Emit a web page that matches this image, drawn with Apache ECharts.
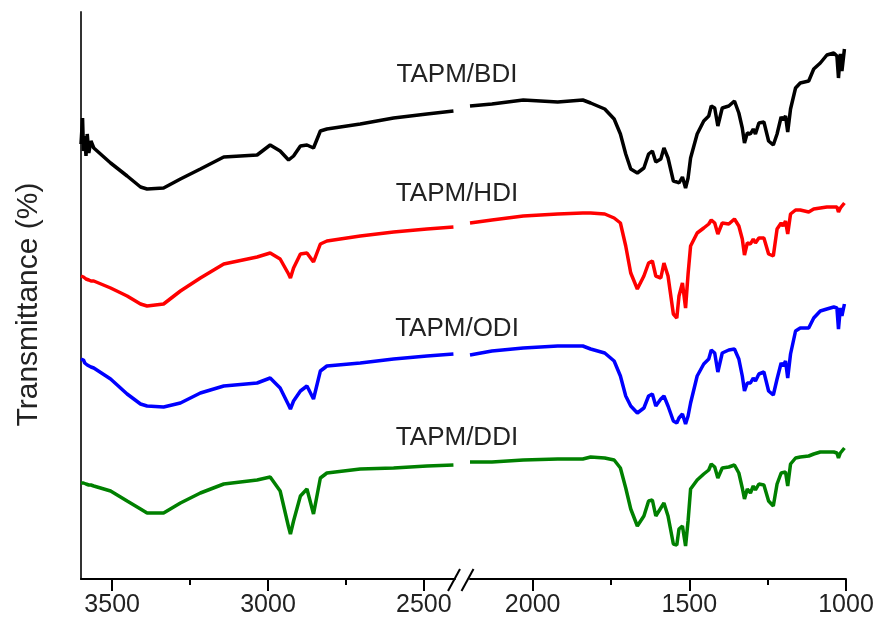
<!DOCTYPE html>
<html><head><meta charset="utf-8">
<script src="https://cdn.jsdelivr.net/npm/echarts@6/dist/echarts.min.js"></script>
<style>html,body{margin:0;padding:0;background:#fff}#c{width:877px;height:624px}</style>
</head><body><div id="c"></div>
<script>
// ---- Data (wavenumber, cm-1) ----
const leftWn = [3600,3595,3592,3588,3584,3580,3575,3568,3559,3505,3452,3409,3388,3335,3281,3217,3142,3035,2993,2961,2934,2928,2918,2896,2875,2854,2832,2811,2704,2597,2490,2405];
const rightWn = [2200,2130,2030,1920,1840,1815,1770,1740,1720,1703,1687,1666,1645,1630,1618,1607,1591,1581,1568,1551,1540,1533,1522,1512,1504,1496,1475,1454,1438,1430,1419,1409,1395,1374,1356,1342,1331,1324,1315,1305,1296,1289,1278,1262,1247,1232,1220,1207,1201,1193,1186,1177,1161,1146,1119,1103,1082,1061,1039,1029,1024,1018,1013,1005];

// transmittance (arbitrary units, curves offset)
const bdiLeft = [435,461,428,443,423,445,426,438,431,416,403,392,390,391,400,410,422,424,434,428,419,417,423,433,434,431,448,450,455,461,465,468];
const bdiRight = [473,475,479,477,479,476,470,460,445,425,410,406,411,425,428,417,420,431,421,398,397,396,402,391,401,421,445,458,463,473,471,453,471,473,478,466,451,436,446,445,450,445,456,457,438,434,445,462,459,463,447,470,491,496,498,510,516,524,526,523,501,525,508,530];
const hdiLeft = [303,302,302,301,300,300,299,298,298,291,283,275,273,275,288,301,315,322,326,320,305,301,311,325,326,317,335,338,343,347,350,352];
const hdiRight = [356,359,363,365,366,366,365,361,356,333,306,290,303,316,318,303,301,316,303,265,261,283,296,271,305,333,346,351,355,359,356,345,356,355,360,353,340,324,336,335,340,336,341,341,325,323,350,356,353,358,345,365,369,369,367,370,371,372,372,372,367,371,373,376];
const odiLeft = [220,218,219,216,215,214,213,212,211,200,185,175,173,172,176,186,193,196,201,191,174,170,178,188,193,180,208,213,216,220,223,225];
const odiRight = [224,228,231,233,233,230,226,218,203,183,173,166,171,183,185,173,180,183,173,158,156,161,165,155,163,176,203,215,220,229,226,207,226,229,230,220,203,188,196,196,201,198,205,207,188,184,200,216,213,218,201,225,248,251,251,261,268,270,272,271,250,271,263,275];
const ddiLeft = [96,96,96,95,95,95,94,94,93,88,78,70,66,66,76,86,95,99,102,88,52,45,58,83,90,65,101,106,110,111,113,114];
const ddiRight = [117,117,119,120,120,122,121,119,111,91,70,53,63,78,79,63,71,76,63,35,34,50,53,33,58,90,99,105,109,115,112,101,111,112,114,106,91,80,90,86,93,89,95,94,78,73,95,106,105,107,93,115,121,122,123,125,127,127,127,126,121,126,128,131];

const seriesNames = ['TAPM/BDI','TAPM/HDI','TAPM/ODI','TAPM/DDI'];
const seriesColors = ['#000000','#ff0000','#0000ff','#008000'];
const labelLevels = [504, 385, 250, 141];

const leftMajor = [2500,3000,3500], leftMinor = [2750,3250];
const rightMajor = [1000,1500,2000], rightMinor = [1250,1750];

// ---- Chart ----
const FONT = '"Liberation Sans", Arial, sans-serif';
const chart = echarts.init(document.getElementById('c'), null, {renderer:'canvas'});
const pairs = (xs, ys) => xs.map((x, i) => [x, ys[i]]);
const lefts = [bdiLeft, hdiLeft, odiLeft, ddiLeft];
const rights = [bdiRight, hdiRight, odiRight, ddiRight];

function mainX(grid, min, max, major) {
  return {
    type:'value', gridIndex:grid, min:min, max:max, inverse:true, position:'bottom',
    axisLine:{show:true, onZero:false, lineStyle:{color:'#000', width:2}},
    axisTick:{show:true, customValues:major, length:12, lineStyle:{color:'#000', width:2}},
    axisLabel:{show:true, customValues:major, margin:14, fontFamily:FONT, fontSize:25, color:'#222',
      formatter:v => String(v)},
    splitLine:{show:false}
  };
}
function minorX(grid, min, max, minor) {
  return {
    type:'value', gridIndex:grid, min:min, max:max, inverse:true, position:'bottom',
    axisLine:{show:false, onZero:false},
    axisTick:{show:true, customValues:minor, length:6, lineStyle:{color:'#000', width:2}},
    axisLabel:{show:false}, splitLine:{show:false}
  };
}

const series = [];
for (let i = 0; i < 4; i++) {
  series.push({type:'line', xAxisIndex:0, yAxisIndex:0, data:pairs(leftWn, lefts[i]), showSymbol:false, symbol:'none',
    lineStyle:{color:seriesColors[i], width:3.5}, z:3, animation:false});
  series.push({type:'line', xAxisIndex:2, yAxisIndex:1, data:pairs(rightWn, rights[i]), showSymbol:false, symbol:'none',
    lineStyle:{color:seriesColors[i], width:3.5}, z:3, animation:false});
}

chart.setOption({
  animation:false,
  backgroundColor:'#fff',
  grid:[{left:81, top:12, width:374, height:567}, {left:470, top:12, width:376, height:567}],
  xAxis:[mainX(0,2400,3600,leftMajor), minorX(0,2400,3600,leftMinor), mainX(1,1000,2200,rightMajor), minorX(1,1000,2200,rightMinor)],
  yAxis:[
    {type:'value', gridIndex:0, min:0, max:567, axisLine:{show:true, lineStyle:{color:'#333', width:2}},
     axisTick:{show:false}, axisLabel:{show:false}, splitLine:{show:false},
     name:'Transmittance (%)', nameLocation:'middle', nameRotate:90, nameGap:37,
     nameTextStyle:{fontFamily:FONT, fontSize:30, color:'#222', padding:[0,18,0,0]}},
    {type:'value', gridIndex:1, min:0, max:567, show:false, splitLine:{show:false}}
  ],
  series:series
});

// axis break marks and curve labels
const xEndL = chart.convertToPixel({xAxisIndex:0}, 2400);
const xStartR = chart.convertToPixel({xAxisIndex:2}, 2200);
const yAxisPix = chart.convertToPixel({yAxisIndex:0}, 0);
const g = [];
[xEndL - 1, xStartR - 2.5].forEach(cx => {
  g.push({type:'line', shape:{x1:cx-6, y1:yAxisPix+12, x2:cx+6, y2:yAxisPix-10}, style:{stroke:'#000', lineWidth:2}});
});
for (let i = 0; i < 4; i++) {
  g.push({type:'text', x:xEndL + 2, y:chart.convertToPixel({yAxisIndex:0}, labelLevels[i]),
    style:{text:seriesNames[i], font:'26px ' + FONT, fill:'#222', align:'center', verticalAlign:'middle'}});
}
chart.setOption({graphic:g});
</script></body></html>
